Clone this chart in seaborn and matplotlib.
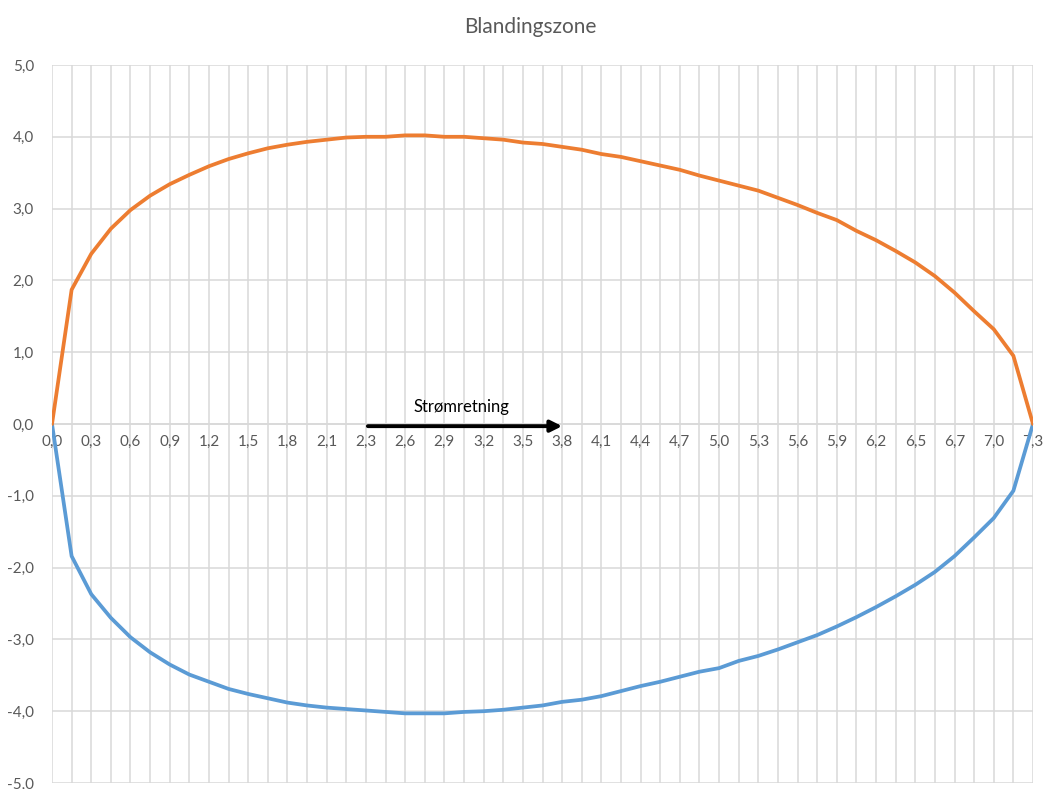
import numpy as np
import pandas as pd
import matplotlib.pyplot as plt
import seaborn as sns

# -------------------- DATA --------------------
# distance along the stream (category axis), 51 points
afstand = [0.0, 0.1, 0.3, 0.4, 0.6, 0.7, 0.9, 1.0, 1.2, 1.3,
           1.5, 1.6, 1.8, 1.9, 2.1, 2.2, 2.3, 2.5, 2.6, 2.8,
           2.9, 3.1, 3.2, 3.4, 3.5, 3.7, 3.8, 4.0, 4.1, 4.3,
           4.4, 4.5, 4.7, 4.8, 5.0, 5.1, 5.3, 5.4, 5.6, 5.7,
           5.9, 6.0, 6.2, 6.3, 6.5, 6.6, 6.7, 6.9, 7.0, 7.2,
           7.3]

# upper edge of the mixing zone (orange)
oevre = [0.00, 1.87, 2.37, 2.72, 2.98, 3.18, 3.34, 3.47, 3.59, 3.69,
         3.77, 3.84, 3.89, 3.93, 3.96, 3.99, 4.00, 4.00, 4.02, 4.02,
         4.00, 4.00, 3.98, 3.96, 3.92, 3.90, 3.86, 3.82, 3.76, 3.72,
         3.66, 3.60, 3.54, 3.46, 3.39, 3.32, 3.25, 3.15, 3.05, 2.94,
         2.84, 2.69, 2.56, 2.41, 2.25, 2.06, 1.83, 1.57, 1.32, 0.95,
         0.00]

# lower edge of the mixing zone (blue)
nedre = [0.00, -1.84, -2.37, -2.70, -2.97, -3.18, -3.35, -3.49, -3.59, -3.69,
         -3.76, -3.82, -3.88, -3.92, -3.95, -3.97, -3.99, -4.01, -4.03, -4.03,
         -4.03, -4.01, -4.00, -3.98, -3.95, -3.92, -3.87, -3.84, -3.79, -3.72,
         -3.65, -3.59, -3.52, -3.45, -3.40, -3.30, -3.23, -3.14, -3.04, -2.94,
         -2.82, -2.69, -2.55, -2.40, -2.24, -2.06, -1.84, -1.58, -1.31, -0.93,
         0.00]

df = pd.DataFrame({"pos": np.arange(len(afstand)), "afstand": afstand,
                   "oevre": oevre, "nedre": nedre})

# -------------------- PLOT --------------------
sns.set_style("white")
plt.rcParams["font.family"] = ["Lato", "DejaVu Sans"]

GRAY_TXT = "#595959"
GRID = "#d9d9d9"

fig = plt.figure(figsize=(10.45, 7.89), dpi=100)
ax = fig.add_axes([52 / 1045, 6 / 789, 981 / 1045, 718 / 789])

sns.lineplot(data=df, x="pos", y="oevre", color="#ED7D31", linewidth=2.7, ax=ax, zorder=4)
sns.lineplot(data=df, x="pos", y="nedre", color="#5B9BD5", linewidth=2.7, ax=ax, zorder=3)

ax.set_xlim(0, len(afstand) - 1)
ax.set_ylim(-5, 5)

# gridlines: every category vertically, every unit horizontally
ax.set_xticks(df["pos"], minor=True)
ax.set_xticks(df["pos"][::2])
ax.set_xticklabels([f"{v:.1f}".replace(".", ",") for v in afstand[::2]])
yt = np.arange(-5, 6, 1)
ax.set_yticks(yt)
ax.set_yticklabels([f"{v:.1f}".replace(".", ",") for v in yt])
ax.grid(True, which="both", color=GRID, linewidth=1.1)
ax.set_axisbelow(True)

for s in ["top", "right", "left"]:
    ax.spines[s].set_visible(False)
ax.spines["bottom"].set_position(("data", 0))
ax.spines["bottom"].set_color(GRID)
ax.spines["bottom"].set_linewidth(1.1)
ax.spines["bottom"].set_zorder(1)

ax.tick_params(axis="x", which="both", length=0, pad=8, labelsize=11, labelcolor=GRAY_TXT)
ax.tick_params(axis="y", length=0, pad=13, labelsize=11, labelcolor=GRAY_TXT)
ax.set_xlabel("")
ax.set_ylabel("")

# flow direction arrow
ax.annotate("", xy=(26.0, -0.03), xytext=(16.1, -0.03),
            arrowprops=dict(arrowstyle="-|>", color="black", lw=2.8,
                            mutation_scale=17, shrinkA=0, shrinkB=0),
            zorder=6)
ax.text(20.85, 0.23, "Strømretning", ha="center", va="center",
        fontsize=12, color="black", zorder=6)

fig.text(530 / 1045, 1 - 27 / 789, "Blandingszone", ha="center", va="center",
         fontsize=15, color=GRAY_TXT)

plt.savefig("out.png", dpi=100)
plt.close()
